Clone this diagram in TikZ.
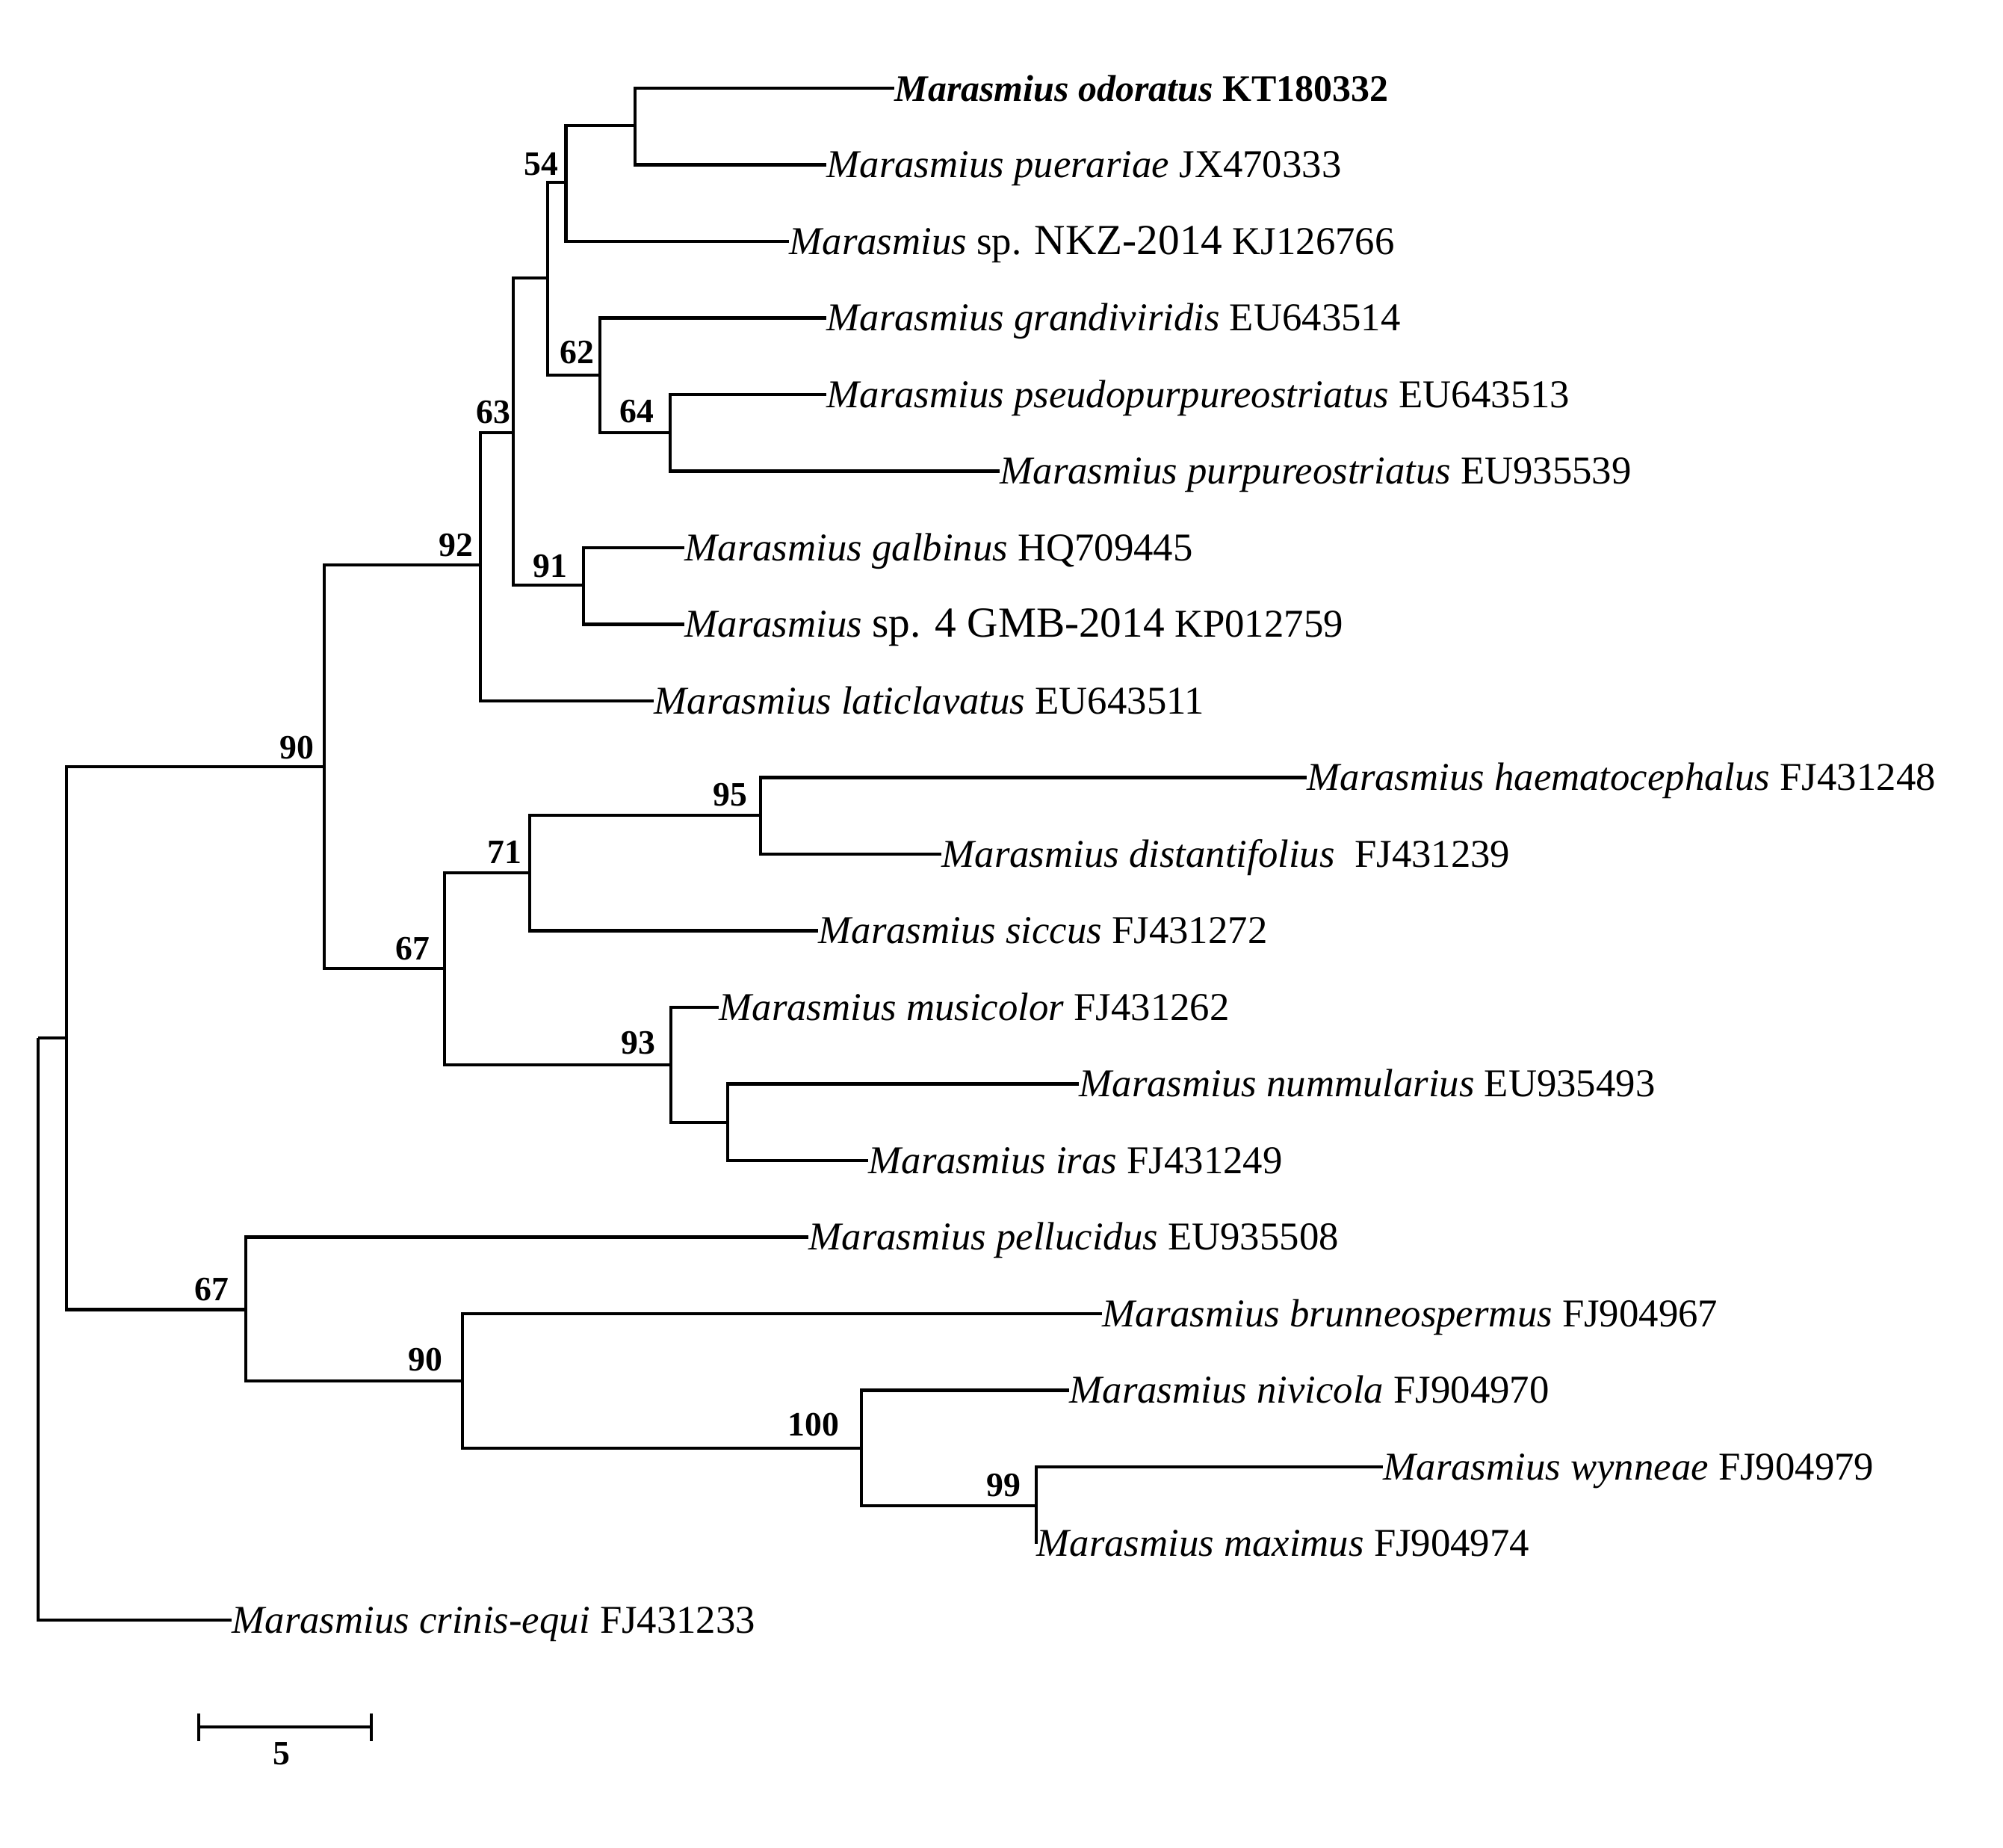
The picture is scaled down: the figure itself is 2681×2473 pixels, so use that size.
\documentclass[tikz,border=0pt]{standalone}
\usepackage{fontspec}
\setmainfont{Liberation Serif}

\tikzset{
  branch/.style={line width=1.15pt},
  scalebar/.style={line width=1.4pt},
  taxon/.style={anchor=base west, inner sep=0pt, yshift=-0.17cm, font=\fontsize{15}{18}\selectfont},
  boot/.style={inner sep=0pt, font=\fontsize{13}{15}\selectfont\bfseries},
}
\newcommand{\bigpart}[1]{{\fontsize{16.3}{18}\selectfont #1}}

\begin{document}
\begin{tikzpicture}[x=0.01cm, y=-0.01cm]
\useasboundingbox (0,0) rectangle (2681,2473);

% inner nodes of the tree
\coordinate (root) at (51,1389);
\coordinate (nA) at (89,1389);
\coordinate (n90a) at (434,1026);
\coordinate (n92) at (643,756);
\coordinate (n63) at (687,579);
\coordinate (nX) at (733,372);
\coordinate (n54) at (757.5,244);
\coordinate (nY) at (850,168);
\coordinate (n62) at (803,502);
\coordinate (n64) at (897,579);
\coordinate (n91) at (781,783);
\coordinate (n67a) at (595,1296);
\coordinate (n71) at (709,1168);
\coordinate (n95) at (1018,1091);
\coordinate (n93) at (898,1425);
\coordinate (nZ) at (974,1502);
\coordinate (n67b) at (329,1752.5);
\coordinate (n90b) at (619,1848);
\coordinate (n100) at (1153,1938);
\coordinate (n99) at (1387,2015);

% tips
\coordinate (t-odo) at (1197,118);
\coordinate (t-pue) at (1106,220.5);
\coordinate (t-nkz) at (1056,323);
\coordinate (t-gra) at (1106,425.5);
\coordinate (t-pse) at (1106,528);
\coordinate (t-pur) at (1338,630.5);
\coordinate (t-gal) at (916,733);
\coordinate (t-gmb) at (916,835.5);
\coordinate (t-lat) at (875,938);
\coordinate (t-hae) at (1749,1040.5);
\coordinate (t-dis) at (1260,1143);
\coordinate (t-sic) at (1095,1245.5);
\coordinate (t-mus) at (962,1348);
\coordinate (t-num) at (1444,1450.5);
\coordinate (t-ira) at (1162,1553);
\coordinate (t-pel) at (1082,1655.5);
\coordinate (t-bru) at (1475,1758);
\coordinate (t-niv) at (1431,1860.5);
\coordinate (t-wyn) at (1851,1963);
\coordinate (t-max) at (1387,2065.5);
\coordinate (t-cri) at (310,2168);

\node[taxon, font=\fontsize{14.2}{18}\selectfont] (odo) at (t-odo) {\textbf{\textit{Marasmius odoratus} KT180332}};
\node[taxon] (pue) at (t-pue) {\textit{Marasmius puerariae} JX470333};
\node[taxon] (nkz) at (t-nkz) {\textit{Marasmius} sp. \bigpart{NKZ-2014} KJ126766};
\node[taxon] (gra) at (t-gra) {\textit{Marasmius grandiviridis} EU643514};
\node[taxon] (pse) at (t-pse) {\textit{Marasmius pseudopurpureostriatus} EU643513};
\node[taxon] (pur) at (t-pur) {\textit{Marasmius purpureostriatus} EU935539};
\node[taxon] (gal) at (t-gal) {\textit{Marasmius galbinus} HQ709445};
\node[taxon] (gmb) at (t-gmb) {\textit{Marasmius} \bigpart{sp. 4 GMB-2014} KP012759};
\node[taxon] (lat) at (t-lat) {\textit{Marasmius laticlavatus} EU643511};
\node[taxon] (hae) at (t-hae) {\textit{Marasmius haematocephalus} FJ431248};
\node[taxon] (dis) at (t-dis) {\textit{Marasmius distantifolius}\ \ FJ431239};
\node[taxon] (sic) at (t-sic) {\textit{Marasmius siccus} FJ431272};
\node[taxon] (mus) at (t-mus) {\textit{Marasmius musicolor} FJ431262};
\node[taxon] (num) at (t-num) {\textit{Marasmius nummularius} EU935493};
\node[taxon] (ira) at (t-ira) {\textit{Marasmius iras} FJ431249};
\node[taxon] (pel) at (t-pel) {\textit{Marasmius pellucidus} EU935508};
\node[taxon] (bru) at (t-bru) {\textit{Marasmius brunneospermus} FJ904967};
\node[taxon] (niv) at (t-niv) {\textit{Marasmius nivicola} FJ904970};
\node[taxon] (wyn) at (t-wyn) {\textit{Marasmius wynneae} FJ904979};
\node[taxon] (max) at (t-max) {\textit{Marasmius maximus} FJ904974};
\node[taxon] (cri) at (t-cri) {\textit{Marasmius crinis-equi} FJ431233};

% branches
\draw[branch] (root) |- (nA);
\draw[branch] (root) |- (t-cri);
\draw[branch] (nA) |- (n90a);
\draw[branch] (nA) |- (n67b);
\draw[branch] (n90a) |- (n92);
\draw[branch] (n90a) |- (n67a);
\draw[branch] (n92) |- (n63);
\draw[branch] (n92) |- (t-lat);
\draw[branch] (n63) |- (nX);
\draw[branch] (n63) |- (n91);
\draw[branch] (nX) |- (n54);
\draw[branch] (nX) |- (n62);
\draw[branch] (n54) |- (nY);
\draw[branch] (n54) |- (t-nkz);
\draw[branch] (nY) |- (t-odo);
\draw[branch] (nY) |- (t-pue);
\draw[branch] (n62) |- (t-gra);
\draw[branch] (n62) |- (n64);
\draw[branch] (n64) |- (t-pse);
\draw[branch] (n64) |- (t-pur);
\draw[branch] (n91) |- (t-gal);
\draw[branch] (n91) |- (t-gmb);
\draw[branch] (n67a) |- (n71);
\draw[branch] (n67a) |- (n93);
\draw[branch] (n71) |- (n95);
\draw[branch] (n71) |- (t-sic);
\draw[branch] (n95) |- (t-hae);
\draw[branch] (n95) |- (t-dis);
\draw[branch] (n93) |- (t-mus);
\draw[branch] (n93) |- (nZ);
\draw[branch] (nZ) |- (t-num);
\draw[branch] (nZ) |- (t-ira);
\draw[branch] (n67b) |- (t-pel);
\draw[branch] (n67b) |- (n90b);
\draw[branch] (n90b) |- (t-bru);
\draw[branch] (n90b) |- (n100);
\draw[branch] (n100) |- (t-niv);
\draw[branch] (n100) |- (n99);
\draw[branch] (n99) |- (t-wyn);
\draw[branch] (n99) |- (t-max);

% bootstrap values
\node[boot] (b54) at (724.5,220) {54};
\node[boot] (b62) at (772,472) {62};
\node[boot] (b64) at (852,551) {64};
\node[boot] (b63) at (660,552) {63};
\node[boot] (b92) at (610.5,730) {92};
\node[boot] (b91) at (736,758) {91};
\node[boot] (b90a) at (397,1000.5) {90};
\node[boot] (b95) at (977.5,1063.5) {95};
\node[boot] (b71) at (675,1140) {71};
\node[boot] (b67a) at (552,1269.5) {67};
\node[boot] (b93) at (854,1396) {93};
\node[boot] (b67b) at (283,1726) {67};
\node[boot] (b90b) at (569.5,1820) {90};
\node[boot] (b100) at (1089,1907) {100};
\node[boot] (b99) at (1343.5,1988) {99};

% scale bar
\coordinate (sb-l) at (266,2311);
\coordinate (sb-r) at (497,2311);
\draw[scalebar] (sb-l) -- (sb-r);
\draw[branch] ([yshift=0.18cm]sb-l) -- ([yshift=-0.19cm]sb-l);
\draw[branch] ([yshift=0.18cm]sb-r) -- ([yshift=-0.19cm]sb-r);
\node[boot] (sb-text) at (377,2347) {5};
\end{tikzpicture}
\end{document}
